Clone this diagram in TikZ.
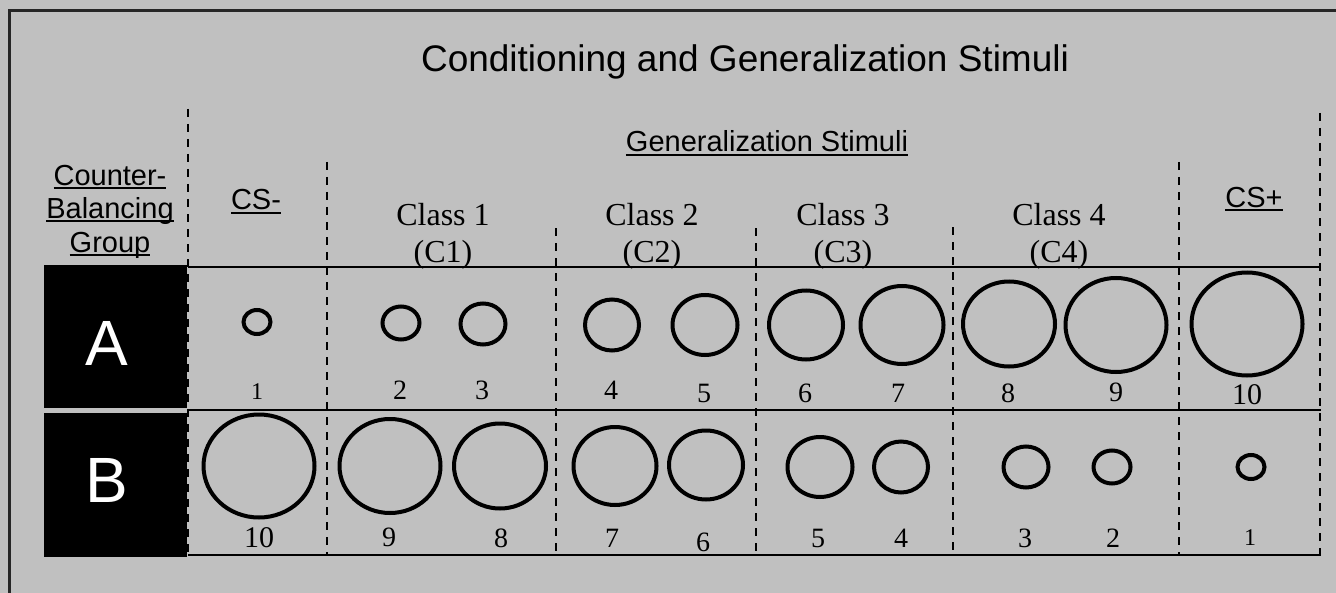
\documentclass[tikz,border=0pt]{standalone}
\usepackage{fontspec}
\setmainfont{Liberation Serif}
\setsansfont{Liberation Sans}
\usetikzlibrary{shapes.geometric}
\definecolor{panelgray}{RGB}{192,192,192}
\newcommand{\undl}[1]{\setbox0\hbox{#1}\rlap{\rule[-1.8pt]{\wd0}{0.9pt}}\box0}

\begin{document}
\begin{tikzpicture}[x=0.5pt,y=-0.5pt,
  sepline/.style={dash pattern=on 4pt off 3.5pt,line width=1.2pt},
  rowline/.style={line width=1pt},
  stim/.style={ellipse,draw,line width=2pt,inner sep=0pt},
  numlbl/.style={inner sep=0pt},
  headsf/.style={font=\sffamily\fontsize{14.5}{16}\selectfont,anchor=base,inner sep=0pt},
  classlbl/.style={font=\fontsize{16}{18}\selectfont,anchor=base,inner sep=0pt},
  grpletter/.style={font=\sffamily\fontsize{32}{34}\selectfont,text=white,anchor=base,inner sep=0pt}]
% background and frame
\fill[panelgray] (0,0) rectangle (1336,593);
\useasboundingbox (0,0) rectangle (1336,593);
\draw[line width=1.5pt,black!85] (9.5,593) -- (9.5,10.5) -- (1336,10.5);
% titles
\node[font=\sffamily\fontsize{18.5}{20}\selectfont,anchor=base,inner sep=0pt] (title) at (745,72) {Conditioning and Generalization Stimuli};
\node[headsf] (gen) at (767,152) {\undl{Generalization Stimuli}};
\node[headsf] (cb1) at (110,185) {\undl{Counter-}};
\node[headsf] (cb2) at (110,218.5) {\undl{Balancing}};
\node[headsf] (cb3) at (110,252) {\undl{Group}};
\node[headsf] (csminus) at (256,210) {\undl{CS-}};
\node[headsf] (csplus) at (1254,207) {\undl{CS+}};
\foreach \c/\xc in {1/443,2/652,3/843,4/1059} {
    \node[classlbl] (cls\c) at (\xc,226) {Class \c};
    \node[classlbl] (ccode\c) at (\xc,262) {(C\c)};
}
% group boxes
\fill (44,265) rectangle (187,408);
\fill (44,413) rectangle (187,557);
\node[grpletter] (grpA) at (107,365) {A};
\node[grpletter] (grpB) at (107,502) {B};
% table lines
\foreach \xs/\ytop in {188/109,327/162,556/228,756/228,953/227,1179/162,1320/113}
    \draw[sepline] (\xs,\ytop) -- (\xs,555);
\foreach \yr in {267,410,555}
    \draw[rowline] (188,\yr) -- (1321,\yr);
% stimuli, row A rising, row B falling
\foreach \k/\rw/\rh/\xa/\ya/\xb/\yb in {1/13.5/12/257/322/1251/467,2/18.5/16.5/401/323/1112/467,
    3/22.5/20.5/483/324/1026/467,4/27/25.5/612/325/901/467,5/32.5/30/705/325/820/467,
    6/37/34.5/806/325/706/465,7/41.5/39/902/325/615/466,8/46/42.5/1009/324/500/466,
    9/50.5/47/1116/325/390/466,10/55.5/51.5/1247/324/259/466} {
    \node[stim,minimum width=\rw pt,minimum height=\rh pt] (a\k) at (\xa,\ya) {};
    \node[stim,minimum width=\rw pt,minimum height=\rh pt] (b\k) at (\xb,\yb) {};
}
% stimulus numbers
\foreach \k/\xa/\ya/\xb/\yb/\fs in {1/257/392/1250/538/12,2/400/390/1113/538/14,3/482/390/1025/538/14,
    4/611/390/901/538/14,5/704/393/818/538/14,6/805/393/703/542/14,7/898/393/612/538/14,
    8/1008/393/501/538/14,9/1116/392/389/537/14,10/1247/395/259/538/15} {
    \node[numlbl,font=\fontsize{\fs}{\fs}\selectfont] (na\k) at (\xa,\ya) {\k};
    \node[numlbl,font=\fontsize{\fs}{\fs}\selectfont] (nb\k) at (\xb,\yb) {\k};
}
\end{tikzpicture}
\end{document}
